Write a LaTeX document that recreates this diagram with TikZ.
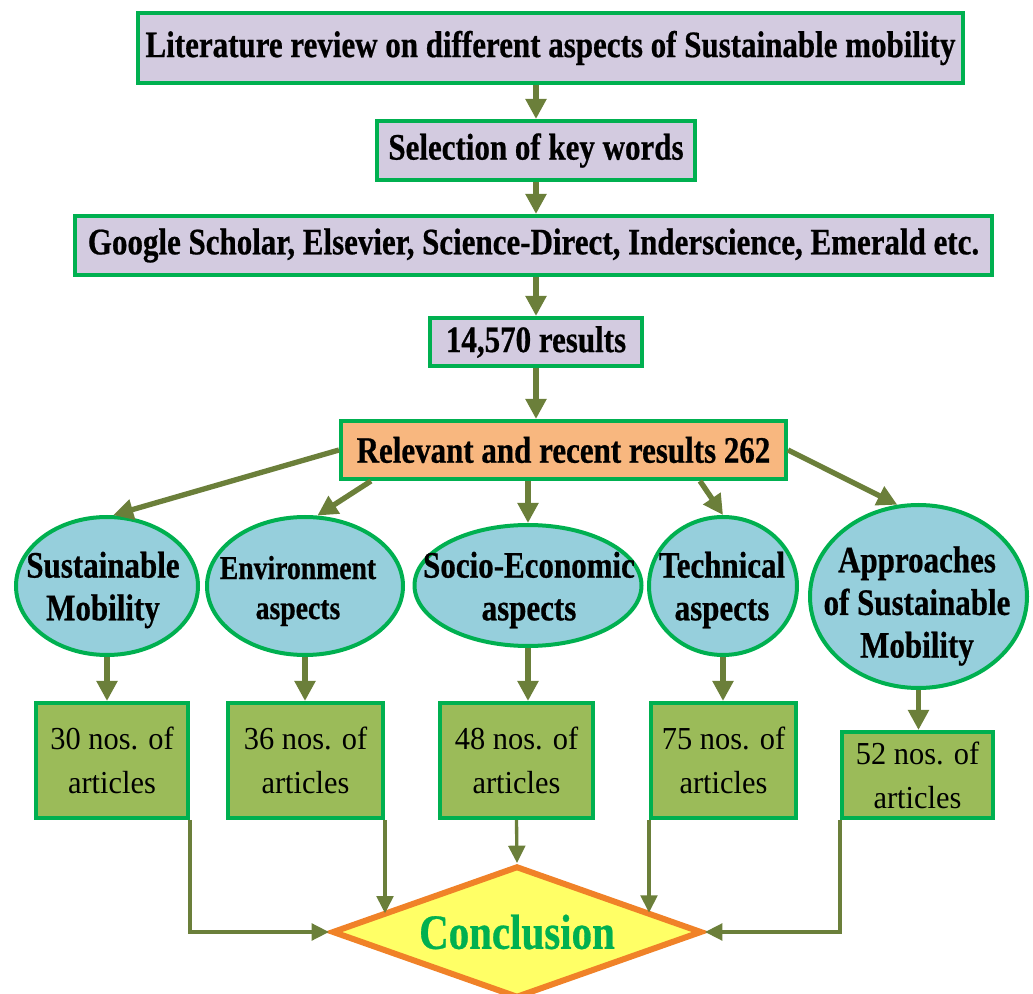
\documentclass[tikz,border=0pt]{standalone}
\usepackage{fontspec}
\setmainfont{Liberation Serif}
\newfontfamily\headfont{Liberation Serif Bold}[FakeStretch=0.83,FakeBold=0.6]
\newfontfamily\countfont{Liberation Serif}[FakeStretch=0.95]
\usepackage{tikz}
\usetikzlibrary{shapes.geometric,arrows.meta,calc,positioning}
\definecolor{boxgreen}{HTML}{00B050}
\definecolor{lavender}{HTML}{D3CBE0}
\definecolor{peach}{HTML}{F8B77F}
\definecolor{skyblue}{HTML}{96CFDC}
\definecolor{leafgreen}{HTML}{9BBB59}
\definecolor{arrowolive}{HTML}{6B7F3A}
\definecolor{conclyellow}{HTML}{FFFF66}
\definecolor{conclorange}{HTML}{F08228}
\tikzset{every picture/.style={line width=0.75pt}}

\begin{document}
\begin{tikzpicture}[x=0.75pt,y=0.75pt,yscale=-1,xscale=1,
	stepbox/.style={draw=boxgreen, line width=3pt, fill=lavender, inner sep=0pt, font=\headfont\fontsize{28}{32}\selectfont},
	aspectshape/.style={ellipse, draw=boxgreen, line width=3pt, fill=skyblue, inner sep=0pt},
	aspecttext/.style={align=center, inner sep=0pt, font=\headfont\fontsize{28}{32}\selectfont},
	countbox/.style={draw=boxgreen, line width=3pt, fill=leafgreen, align=center, inner sep=0pt, font=\countfont\fontsize{24}{33}\selectfont},
	flowarrow/.style={draw=arrowolive, line width=4pt, -{Triangle[width=15pt,length=15pt]}},
	joinarrow/.style={draw=arrowolive, line width=2.5pt, -{Triangle[width=12.5pt,length=13pt]}}
	]
	\useasboundingbox (0,0) rectangle (1033,994);
	
	%Shape: Rectangle [search steps]
	\node[stepbox, minimum width=618.75pt, minimum height=52.5pt] (review) at (550.5,48) {Literature review on different aspects of Sustainable mobility};
	\node[stepbox, minimum width=238.5pt, minimum height=44.25pt] (keywords) at (536,150.5) {Selection of key words};
	\node[stepbox, minimum width=687.75pt, minimum height=44.25pt] (databases) at (533.5,245.5) {Google Scholar, Elsevier, Science-Direct, Inderscience, Emerald etc.};
	\node[stepbox, minimum width=159pt, minimum height=36pt] (results) at (536,342) {14,570 results};
	\node[stepbox, fill=peach, minimum width=333.75pt, minimum height=43.5pt] (relevant) at (563.5,450) {Relevant and recent results 262};
	
	%Straight Lines [between steps]
	\draw[flowarrow] (keywords.north |- review.south) -- (keywords.north);
	\draw[flowarrow] (keywords.south) -- (keywords.south |- databases.north);
	\draw[flowarrow] (results.north |- databases.south) -- (results.north);
	\draw[flowarrow] (results.south) -- (results.south |- relevant.north);
	
	%Shape: Ellipse [aspects]
	\node[aspectshape, minimum width=136.5pt, minimum height=103.5pt] (mobility) at (107,586) {};
	\node[aspectshape, minimum width=147pt, minimum height=103.5pt] (environment) at (305,586) {};
	\node[aspectshape, minimum width=170.25pt, minimum height=90.75pt] (socio) at (528,585.5) {};
	\node[aspectshape, minimum width=111pt, minimum height=103.5pt] (technical) at (723,586) {};
	\node[aspectshape, minimum width=162.75pt, minimum height=137.25pt] (approaches) at (918.5,596.5) {};
	
	% Text Node
	\node[aspecttext] (mobilitytxt) at (103,590) {Sustainable\\Mobility};
	\node[aspecttext, font=\headfont\fontsize{25}{30}\selectfont] (environmenttxt) at (298,591) {Environment\\aspects};
	\node[aspecttext] (sociotxt) at (529,590) {Socio-Economic\\aspects};
	\node[aspecttext] (technicaltxt) at (722,590) {Technical\\aspects};
	\node[aspecttext] (approachestxt) at (917,606) {Approaches\\of Sustainable\\Mobility};
	
	%Straight Lines [to aspects]
	\draw[flowarrow] (relevant.west) -- (mobility.85);
	\draw[flowarrow] ($(relevant.south west)+(32,0)$) -- (environment.80);
	\draw[flowarrow] (socio.north |- relevant.south) -- (socio.north);
	\draw[flowarrow] ($(relevant.south east)+(-88,0)$) -- (technical.north);
	\draw[flowarrow] (relevant.east) -- (approaches.103);
	
	%Shape: Rectangle [article counts]
	\node[countbox, minimum width=114pt, minimum height=86.25pt] (count1) at (112,760.5) {30 nos. of\\articles};
	\node[countbox, minimum width=116.25pt, minimum height=86.25pt] (count2) at (305.5,760.5) {36 nos. of\\articles};
	\node[countbox, minimum width=114.75pt, minimum height=86.25pt] (count3) at (516.5,760.5) {48 nos. of\\articles};
	\node[countbox, minimum width=108.75pt, minimum height=86.25pt] (count4) at (723.5,760.5) {75 nos. of\\articles};
	\node[countbox, minimum width=113.25pt, minimum height=64.5pt] (count5) at (917.5,775) {52 nos. of\\articles};
	
	%Straight Lines [aspects to counts]
	\draw[flowarrow] (mobility.south) -- (mobility.south |- count1.north);
	\draw[flowarrow] (environment.south) -- (environment.south |- count2.north);
	\draw[flowarrow] (socio.south) -- (socio.south |- count3.north);
	\draw[flowarrow] (technical.south) -- (technical.south |- count4.north);
	\draw[flowarrow] (approaches.south) -- (approaches.south |- count5.north);
	
	%Shape: Diamond [conclusion]
	\node[diamond, aspect=2.8, draw=conclorange, line width=4.5pt, fill=conclyellow, inner sep=0pt, minimum width=277.5pt, minimum height=99pt, text=boxgreen, font=\headfont\fontsize{37}{40}\selectfont] (conclusion) at (517,932) {Conclusion};
	\coordinate (leftedge) at ($(conclusion.west)!0.27!(conclusion.north)$);
	\coordinate (rightedge) at ($(conclusion.north)!0.72!(conclusion.east)$);
	
	%Straight Lines [counts to conclusion]
	\draw[joinarrow] (count1.south east) |- (conclusion.west);
	\draw[joinarrow] (count2.south east) -- (count2.south east |- leftedge);
	\draw[joinarrow] (count3.south) -- (conclusion.north);
	\draw[joinarrow] (count4.south west) -- (count4.south west |- rightedge);
	\draw[joinarrow] (count5.south west) |- (conclusion.east);
	
\end{tikzpicture}
\end{document}
